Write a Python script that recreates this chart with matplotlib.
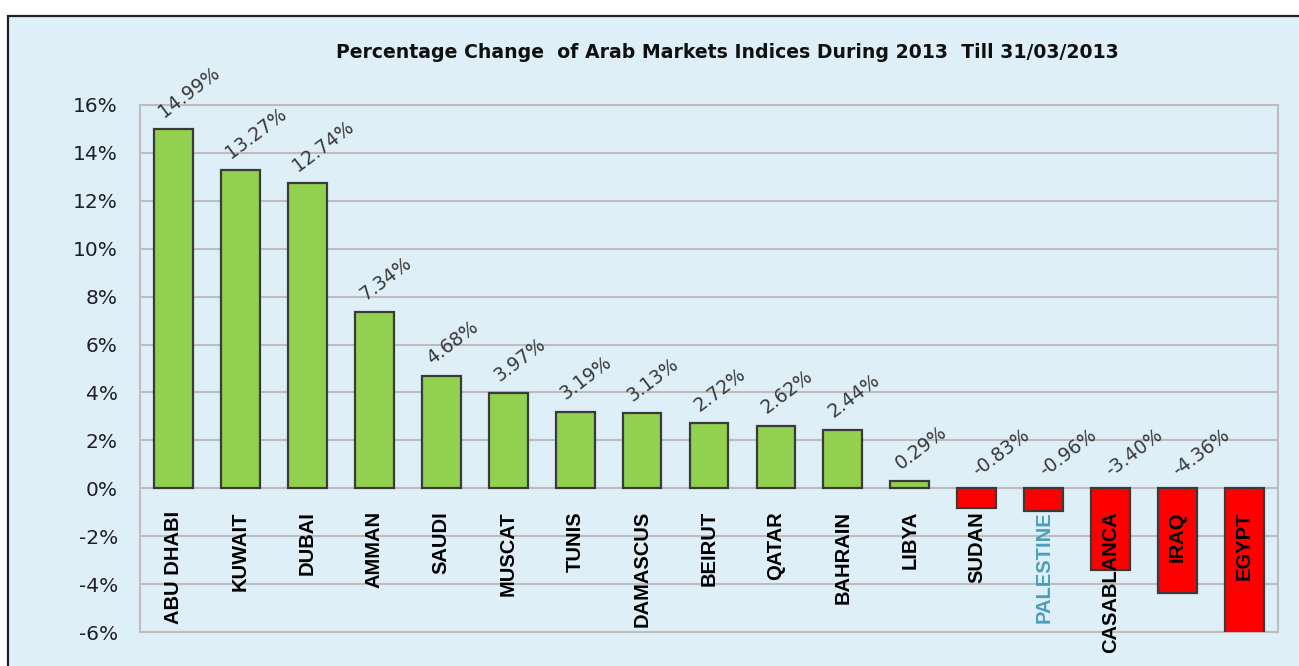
import matplotlib
matplotlib.use("Agg")
import matplotlib.pyplot as plt
from matplotlib.patches import Rectangle

markets = ["ABU DHABI", "KUWAIT", "DUBAI", "AMMAN", "SAUDI", "MUSCAT", "TUNIS",
           "DAMASCUS", "BEIRUT", "QATAR", "BAHRAIN", "LIBYA", "SUDAN",
           "PALESTINE", "CASABLANCA", "IRAQ", "EGYPT"]
changes = [14.99, 13.27, 12.74, 7.34, 4.68, 3.97, 3.19, 3.13, 2.72, 2.62,
           2.44, 0.29, -0.83, -0.96, -3.40, -4.36, -6.10]
y_ticks = [-6, -4, -2, 0, 2, 4, 6, 8, 10, 12, 14, 16]
title = "Percentage Change  of Arab Markets Indices During 2013  Till 31/03/2013"

W, H = 1299, 666
fig = plt.figure(figsize=(W / 100, H / 100), dpi=100)
fig.patch.set_facecolor("white")

bg = "#DFEFF7"
# outer chart frame
frame = Rectangle((8 / W, -0.05), 1.2, 1 - 16 / H + 0.05, transform=fig.transFigure,
                  facecolor=bg, edgecolor="#202020", linewidth=1.6, zorder=-10)
fig.patches.append(frame)

ax = fig.add_axes([140 / W, 1 - 632 / H, (1278 - 140) / W, (632 - 105) / H])
ax.set_zorder(1)
ax.set_facecolor(bg)

x = list(range(len(markets)))
colors = ["#92D050" if v >= 0 else "#FF0000" for v in changes]
ax.bar(x, changes, width=0.58, color=colors, edgecolor="#3A3A3A", linewidth=1.6, zorder=3)

ax.set_xlim(-0.5, len(markets) - 0.5)
ax.set_ylim(-6, 16)
ax.set_yticks(y_ticks)
ax.set_yticklabels([f"{t}%" for t in y_ticks], fontsize=14.5, color="#1E1E2E",
                   family="DejaVu Sans")
ax.tick_params(axis="y", length=0, pad=16)
ax.set_xticks([])
ax.grid(axis="y", color="#BDBDBD", linewidth=1.5, zorder=1)
for s in ax.spines.values():
    s.set_color("#BDBDBD")
    s.set_linewidth(1.5)

# value labels
for i, v in enumerate(changes):
    if v < -6:
        continue
    base = max(v, 0)
    dx = -0.1 if v >= 0 else 0.05
    ax.annotate(f"{v:.2f}%", xy=(i + dx, base), xytext=(0, 6), textcoords="offset points",
                rotation=37, rotation_mode="anchor", ha="left", va="bottom",
                fontsize=13.5, color="#3A3A3A", family="DejaVu Sans", zorder=5,
                annotation_clip=False)

# category labels
for i, name in enumerate(markets):
    col = "#4A9FBA" if name == "PALESTINE" else "black"
    ax.text(i, -0.95, name, rotation=90, ha="center", va="top", fontsize=14.5,
            fontweight="bold", color=col, family="Liberation Sans", zorder=6)

fig.text(727 / W, 1 - 52 / H, title, ha="center", va="center", fontsize=13.6,
         fontweight="bold", color="#101010", family="DejaVu Sans")

fig.savefig("out.png", dpi=100, facecolor=fig.get_facecolor())
